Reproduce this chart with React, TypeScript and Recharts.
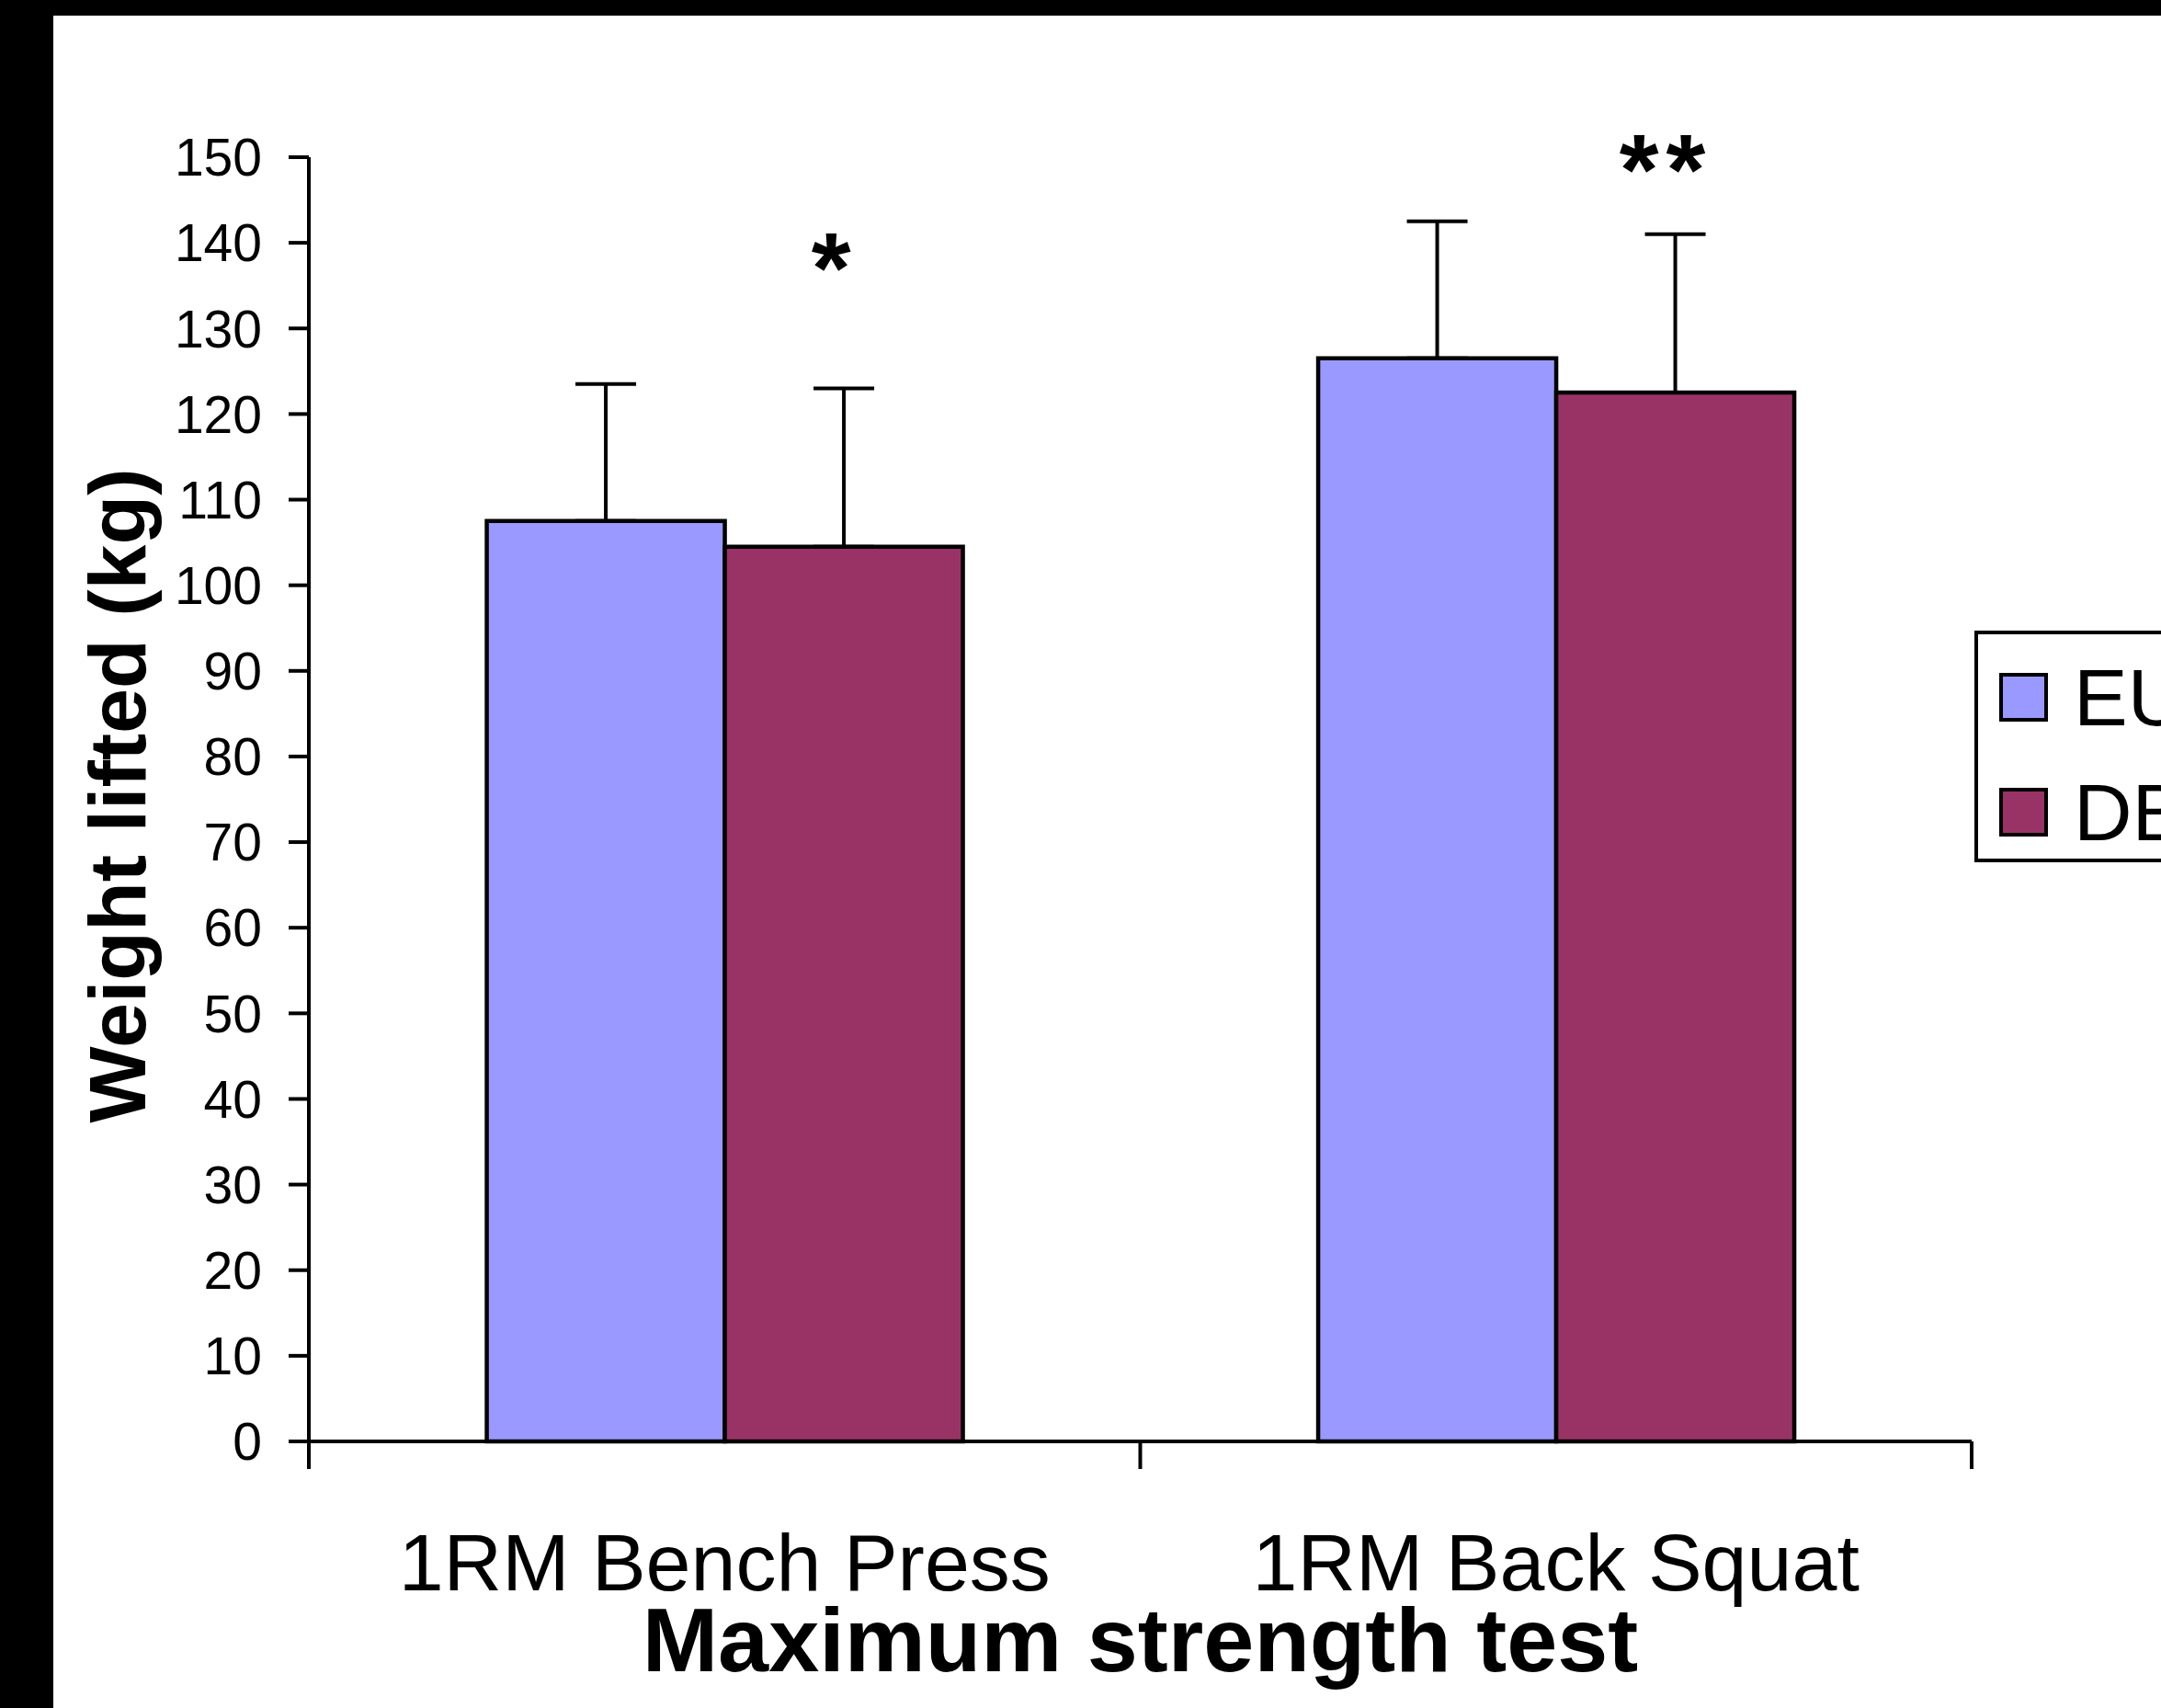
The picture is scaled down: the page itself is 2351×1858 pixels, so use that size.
import React from "react";
import { ComposedChart, Bar, XAxis, YAxis, ErrorBar, LabelList, Legend } from "recharts";

const FONT = '"Liberation Sans", Arial, sans-serif';

const categories = ["1RM Bench Press", "1RM Back Squat"];
const euMean = [107.5, 126.5];
const euSd = [16, 16];
const dbMean = [104.5, 122.5];
const dbSd = [18.5, 18.5];
const sigMarks = ["*", "**"];
const sigAt = [138.4, 149.8];
const yTicks = [0, 10, 20, 30, 40, 50, 60, 70, 80, 90, 100, 110, 120, 130, 140, 150];
// boundaries between categories get a tick line, the midpoints get the label
const edgeTicks = [0, 0.5, 1, 1.5, 2];
const legendOrder = ["EU", "DB"];

const data = categories.map((name, i) => ({
  name,
  pos: i + 0.5,
  eu: euMean[i],
  euErr: [0, euSd[i]],
  db: dbMean[i],
  dbErr: [0, dbSd[i]],
  sig: sigMarks[i],
}));

const axisStroke = { stroke: "#000", strokeWidth: 4 };

function SigMark(props: any) {
  const vb = props.viewBox ?? props;
  const { x, y, width, height } = vb;
  const i = props.index ?? 0;
  // place the mark at sigAt[i] using the bar's own px-per-unit
  const ySig = y + height - (sigAt[i] * height) / dbMean[i];
  return (
    <text
      x={x + width / 2 - 10}
      y={ySig}
      dy="0.45em"
      textAnchor="middle"
      fontFamily={FONT}
      fontWeight="bold"
      fontSize={110}
      letterSpacing={8}
      fill="#000"
    >
      {props.value}
    </text>
  );
}

function EdgeTick(props: any) {
  const { x, y, payload } = props;
  const v = payload.value;
  if (Number.isInteger(v)) {
    return <line x1={x} x2={x} y1={y} y2={y + 30} stroke="#000" strokeWidth={4} />;
  }
  return (
    <text x={x} y={y + 162} textAnchor="middle" fontFamily={FONT} fontSize={88} fill="#000">
      {categories[Math.floor(v)]}
    </text>
  );
}

function YTitle(props: any) {
  const { x, y, height } = props.viewBox;
  const cx = x + 158;
  const cy = y + height / 2 - 4;
  return (
    <text
      x={cx}
      y={cy}
      transform={`rotate(-90 ${cx} ${cy})`}
      textAnchor="middle"
      fontFamily={FONT}
      fontWeight="bold"
      fontSize={88}
      fill="#000"
    >
      Weight lifted (kg)
    </text>
  );
}

function XTitle(props: any) {
  const { x, y, width } = props.viewBox;
  return (
    <text
      x={x + width / 2}
      y={y + 250}
      textAnchor="middle"
      fontFamily={FONT}
      fontWeight="bold"
      fontSize={99}
      fill="#000"
    >
      Maximum strength test
    </text>
  );
}

function LegendBox(props: any) {
  const { payload = [] } = props;
  return (
    <div
      style={{
        border: "4px solid #000",
        boxSizing: "border-box",
        width: 260,
        height: 252,
        paddingTop: 6,
        paddingLeft: 23,
        background: "#fff",
        overflow: "visible",
      }}
    >
      {payload.map((p: any) => (
        <div key={p.value} style={{ display: "flex", alignItems: "center", height: 125, whiteSpace: "nowrap" }}>
          <div
            style={{
              width: 53,
              height: 53,
              boxSizing: "border-box",
              border: "4px solid #000",
              background: p.color,
              flex: "none",
            }}
          />
          <span style={{ marginLeft: 28, fontFamily: FONT, fontSize: 88, color: "#000", lineHeight: 1 }}>{p.value}</span>
        </div>
      ))}
    </div>
  );
}

export default function App() {
  return (
    <div
      style={{
        position: "fixed",
        left: 0,
        top: 0,
        width: 2351,
        height: 1858,
        overflow: "hidden",
        background: "#000",
        fontFamily: FONT,
      }}
    >
      <div style={{ position: "absolute", left: 58, top: 17, right: 0, bottom: 0, background: "#fff" }} />
      <div style={{ position: "absolute", left: 0, top: 0 }}>
        <ComposedChart
          width={2351}
          height={1858}
          data={data}
          margin={{ top: 171, right: 206, bottom: 0, left: 0 }}
          barCategoryGap="21.4%"
          barGap={0}
        >
          <XAxis xAxisId="cat" dataKey="name" type="category" height={0} hide />
          <XAxis
            xAxisId="edge"
            type="number"
            dataKey="pos"
            domain={[0, 2]}
            ticks={edgeTicks}
            interval={0}
            height={290}
            tickSize={0}
            tickMargin={0}
            tickLine={false}
            axisLine={axisStroke}
            tick={EdgeTick}
            label={XTitle}
          />
          <YAxis
            width={336}
            domain={[0, 150]}
            ticks={yTicks}
            interval={0}
            tickSize={22}
            tickMargin={29}
            axisLine={axisStroke}
            tickLine={axisStroke}
            tick={{ fontSize: 57, fill: "#000", fontFamily: FONT }}
            label={YTitle}
          />
          <Legend
            layout="horizontal"
            verticalAlign="middle"
            align="center"
            content={LegendBox}
            itemSorter={(item: any) => legendOrder.indexOf(item.value)}
            wrapperStyle={{ left: 2148, top: 686, width: 260, height: 252 }}
          />
          <Bar xAxisId="cat" dataKey="eu" name="EU" fill="#9999FF" stroke="#000" strokeWidth={4.5} isAnimationActive={false}>
            <ErrorBar dataKey="euErr" width={33} stroke="#000" strokeWidth={4} isAnimationActive={false} />
          </Bar>
          <Bar xAxisId="cat" dataKey="db" name="DB" fill="#993366" stroke="#000" strokeWidth={4.5} isAnimationActive={false}>
            <ErrorBar dataKey="dbErr" width={33} stroke="#000" strokeWidth={4} isAnimationActive={false} />
            <LabelList dataKey="sig" content={SigMark} />
          </Bar>
        </ComposedChart>
      </div>
    </div>
  );
}
